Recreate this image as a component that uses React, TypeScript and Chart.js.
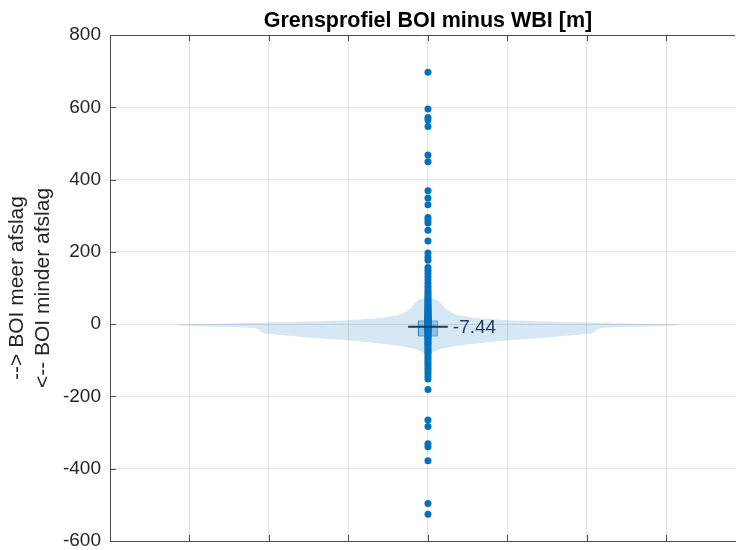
import { useEffect, useRef } from 'react';
import { Chart, registerables } from 'chart.js';

Chart.register(...registerables);

// ---- data ----
const titleText = 'Grensprofiel BOI minus WBI [m]';
const yLabelLines = ['--> BOI meer afslag', '<-- BOI minder afslag'];
const yMin = -600;
const yMax = 800;
const yStep = 200;
const yTicks = [-600, -400, -200, 0, 200, 400, 600, 800];
const xGridPositions = [1, 2, 3, 4, 5, 6, 7];
const xMin = 0;
const xMax = 7.8625;
const groupPosition = 4;

const medianValue = -7.44;
const boxLow = -33;
const boxHigh = 9;
const boxHalfWidth = 0.12;
const medianHalfWidth = 0.25;

// violin outline: value along y, half width (density) in x units
const violinValues = [80, 72, 66, 55, 45, 34, 25, 18, 14, 11, 8, 5, 2, 0, -3, -5, -7, -10, -14, -22, -26, -32, -38, -44, -50, -56, -63, -69, -75, -82, -88];
const violinHalfWidths = [0, 0.05, 0.125, 0.175, 0.2125, 0.275, 0.375, 0.5625, 0.775, 1.0, 1.375, 1.94, 2.5, 3.125, 3.16, 3.0, 2.5, 2.19, 2.125, 2.1, 2.06, 1.75, 1.44, 1.06, 0.75, 0.5, 0.275, 0.16, 0.09, 0.04, 0];

const scatterValues = [
  697, 595, 572, 565, 547, 468, 449, 369, 349, 330, 295, 288, 280, 260, 230,
  197, 186, 177, 157, 149, 140, 131, 122, 113, 105, 98, 91, 85, 79, 74, 69,
  64, 60, 56, 52, 48, 45, 42, 39, 36, 33, 30, 28, 26, 24, 22, 20, 18, 16, 14,
  12, 10, 9, 8, 7, 6, 5, 4, 3, 2, 1, 0, -1, -2, -3, -4, -5, -6, -7, -8, -9,
  -10, -11, -12, -13, -15, -17, -19, -21, -23, -26, -29, -32, -35, -38, -42,
  -46, -50, -54, -58, -63, -68, -73, -78, -84, -90, -96, -102, -108, -115,
  -122, -129, -136, -144, -152, -181, -265, -283, -331, -339, -378, -496, -526,
];

// ---- styles ----
const FONT = '"Liberation Sans", Arial, Helvetica, sans-serif';
const axisColor = '#4d4d4d';
const gridColor = '#e3e3e3';
const textColor = '#262626';
const pointColor = '#0072BD';
const violinColor = 'rgba(0,114,189,0.16)';
const boxFill = 'rgba(0,114,189,0.33)';
const boxBorder = 'rgba(0,114,189,0.45)';
const medianColor = '#1f3a58';

const matlabAxes = {
  id: 'matlabAxes',
  afterDraw(chart: any) {
    const { ctx, chartArea: a, scales } = chart;
    const x = scales.x;
    const y = scales.y;
    ctx.save();
    ctx.strokeStyle = axisColor;
    ctx.lineWidth = 1;
    ctx.beginPath();
    ctx.moveTo(a.left, a.top + 0.5);
    ctx.lineTo(a.right, a.top + 0.5);
    xGridPositions.forEach((v) => {
      const px = Math.round(x.getPixelForValue(v)) + 0.5;
      ctx.moveTo(px, a.bottom);
      ctx.lineTo(px, a.bottom - 6);
      ctx.moveTo(px, a.top);
      ctx.lineTo(px, a.top + 6);
    });
    yTicks.forEach((v) => {
      const py = Math.round(y.getPixelForValue(v)) + 0.5;
      ctx.moveTo(a.left, py);
      ctx.lineTo(a.left + 6, py);
    });
    ctx.stroke();

    // title
    ctx.fillStyle = '#000000';
    ctx.font = `bold 21.5px ${FONT}`;
    ctx.textAlign = 'center';
    ctx.textBaseline = 'alphabetic';
    ctx.fillText(titleText, x.getPixelForValue(groupPosition), 27);

    // median label
    ctx.fillStyle = medianColor;
    ctx.font = `19px ${FONT}`;
    ctx.textAlign = 'left';
    ctx.textBaseline = 'middle';
    ctx.fillText(
      medianValue.toFixed(2),
      x.getPixelForValue(groupPosition + medianHalfWidth) + 5,
      y.getPixelForValue(medianValue) + 1
    );
    ctx.restore();
  },
};

export default function App() {
  const ref = useRef<HTMLCanvasElement | null>(null);

  useEffect(() => {
    if (!ref.current) return;

    const violinRight = violinValues.map((v, i) => ({ x: groupPosition + violinHalfWidths[i], y: v }));
    const violinLeft = violinValues
      .map((v, i) => ({ x: groupPosition - violinHalfWidths[i], y: v }))
      .reverse();
    const violinData = [...violinRight, ...violinLeft];

    const boxData = [
      { x: groupPosition - boxHalfWidth, y: boxLow },
      { x: groupPosition + boxHalfWidth, y: boxLow },
      { x: groupPosition + boxHalfWidth, y: boxHigh },
      { x: groupPosition - boxHalfWidth, y: boxHigh },
      { x: groupPosition - boxHalfWidth, y: boxLow },
    ];

    const medianData = [
      { x: groupPosition - medianHalfWidth, y: medianValue },
      { x: groupPosition + medianHalfWidth, y: medianValue },
    ];

    const pointData = scatterValues.map((v) => ({ x: groupPosition, y: v }));

    const chart = new Chart(ref.current, {
      type: 'scatter',
      data: {
        datasets: [
          {
            label: 'median',
            data: medianData,
            showLine: true,
            borderColor: medianColor,
            borderWidth: 2,
            pointRadius: 0,
            fill: false,
            order: 0,
          },
          {
            label: 'points',
            data: pointData,
            showLine: false,
            pointRadius: 3.5,
            pointBackgroundColor: pointColor,
            pointBorderWidth: 0,
            backgroundColor: pointColor,
            order: 1,
          },
          {
            label: 'box',
            data: boxData,
            showLine: true,
            borderColor: boxBorder,
            borderWidth: 1,
            backgroundColor: boxFill,
            pointRadius: 0,
            fill: 'shape',
            order: 2,
          },
          {
            label: 'violin',
            data: violinData,
            showLine: true,
            borderColor: 'transparent',
            borderWidth: 0,
            backgroundColor: violinColor,
            pointRadius: 0,
            fill: 'shape',
            order: 3,
          },
        ],
      } as any,
      options: {
        animation: false,
        responsive: false,
        devicePixelRatio: 1,
        events: [],
        layout: { padding: { top: 35, bottom: 9, left: 0, right: 0 } },
        plugins: {
          legend: { display: false },
          title: { display: false },
          tooltip: { enabled: false },
        },
        scales: {
          x: {
            type: 'linear',
            min: xMin,
            max: xMax,
            afterFit: (s: any) => {
              s.height = 0;
              s.paddingLeft = 0;
              s.paddingRight = 0;
            },
            ticks: { display: false, stepSize: 1, includeBounds: false },
            grid: { color: gridColor, drawTicks: false },
            border: { display: true, color: axisColor, width: 1 },
          },
          y: {
            type: 'linear',
            min: yMin,
            max: yMax,
            afterFit: (s: any) => {
              s.width = 110;
              s.paddingTop = 0;
              s.paddingBottom = 0;
            },
            ticks: {
              stepSize: yStep,
              padding: 9,
              color: textColor,
              font: { family: FONT, size: 19 },
            },
            grid: { color: gridColor, drawTicks: false },
            border: { display: true, color: axisColor, width: 1 },
            title: {
              display: true,
              text: yLabelLines,
              color: textColor,
              font: { family: FONT, size: 21, lineHeight: 1.24 },
              padding: { top: 4, bottom: 0 },
            },
          },
        },
      } as any,
      plugins: [matlabAxes],
    });

    return () => chart.destroy();
  }, []);

  return (
    <div style={{ position: 'fixed', left: 0, top: 0, width: 739, height: 550, background: '#ffffff' }}>
      <canvas ref={ref} width={739} height={550} style={{ display: 'block' }} />
    </div>
  );
}
